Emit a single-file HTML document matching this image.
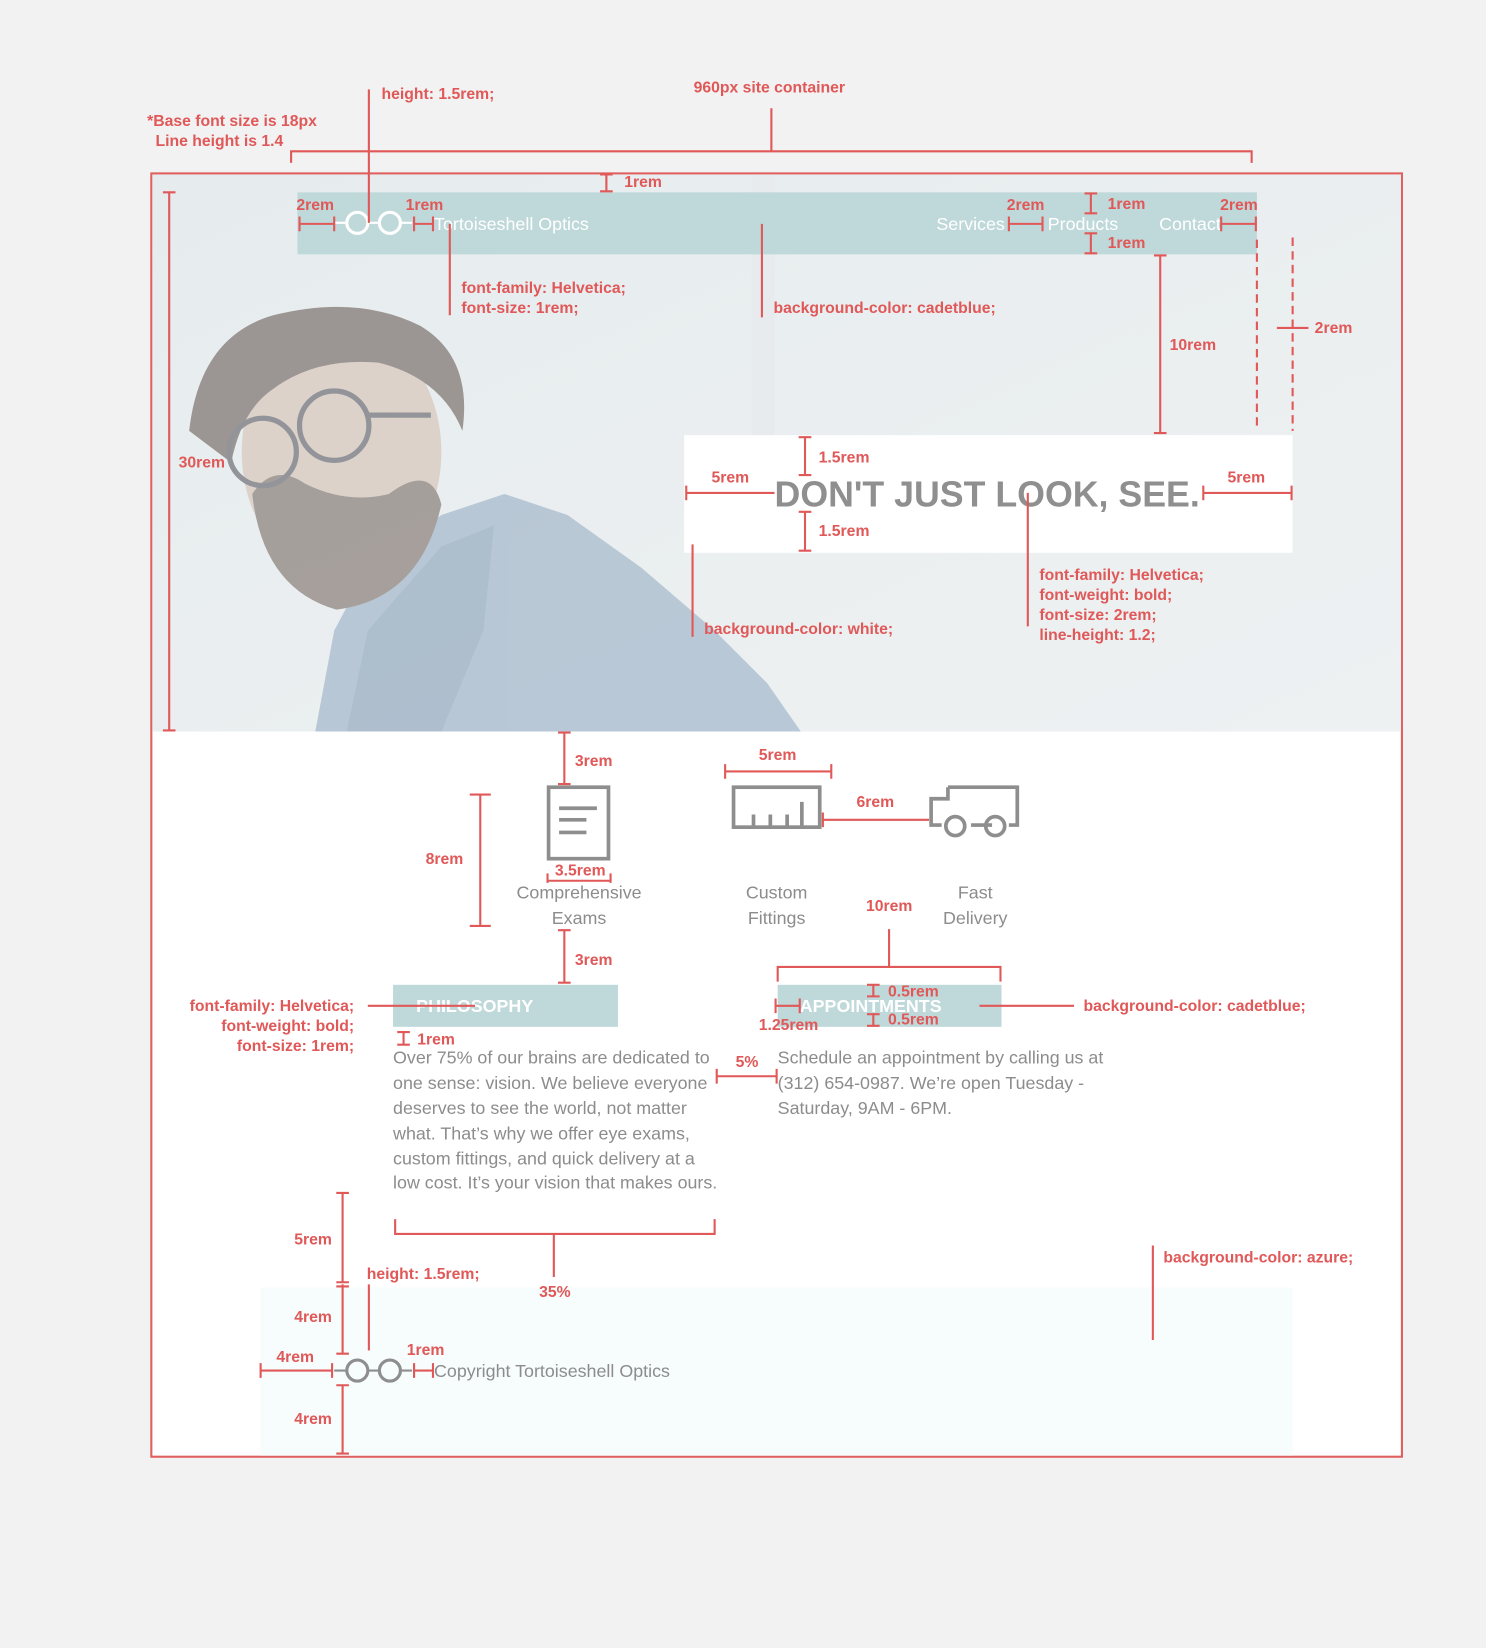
<!DOCTYPE html>
<html><head><meta charset="utf-8"><style>
html,body{margin:0;padding:0;background:#f2f2f2;}
svg{display:block;}
.a{font-family:"Liberation Sans",sans-serif;font-size:15px;font-weight:bold;fill:#e05858;}
.g{font-family:"Liberation Sans",sans-serif;font-size:17px;fill:#8c8c8c;}
.w{font-family:"Liberation Sans",sans-serif;font-size:17px;fill:#fff;}
.r{stroke:#e05858;stroke-width:2;fill:none;}
</style></head><body>
<svg width="1486" height="1648" viewBox="0 0 1414 1568" preserveAspectRatio="none" xmlns="http://www.w3.org/2000/svg">
<defs>
<linearGradient id="hg" x1="0" y1="0" x2="1" y2="1">
<stop offset="0" stop-color="#e6ecee"/><stop offset="1" stop-color="#eef1f2"/></linearGradient>
</defs>
<rect width="1414" height="1568" fill="#f2f2f2"/>
<rect x="144" y="165" width="1190" height="1221" fill="#fff" stroke="#e06060" stroke-width="2"/>
<rect x="145" y="166" width="1188" height="530" fill="url(#hg)"/>
<rect x="715" y="166" width="22" height="300" fill="#e7ebed"/>
<!-- person -->
<g opacity="0.55">
<path d="M300 696 L318 600 L350 540 L420 490 L480 470 L540 490 L610 540 L680 600 L730 650 L762 696 Z" fill="#8fa8c0"/>
<path d="M330 696 L350 600 L420 520 L470 500 L460 600 L420 696 Z" fill="#7d97b2"/>
<ellipse cx="325" cy="430" rx="95" ry="120" fill="#d3bcac"/>
<path d="M240 470 Q250 560 320 580 Q400 570 420 480 Q410 440 370 470 Q330 480 290 460 Q260 440 240 470 Z" fill="#6f6058"/>
<path d="M180 410 Q190 320 260 300 Q340 280 400 310 Q450 340 440 410 Q420 360 360 345 Q300 340 260 370 Q230 390 220 440 Z" fill="#5e5049"/>
<circle cx="250" cy="430" r="32" fill="none" stroke="#4d4d55" stroke-width="5"/>
<circle cx="318" cy="405" r="33" fill="none" stroke="#4d4d55" stroke-width="5"/>
<path d="M350 395 L410 395" stroke="#4d4d55" stroke-width="5"/>
</g>
<!-- nav -->
<rect x="283" y="183" width="913" height="59" fill="#bfd8da"/>
<circle cx="340" cy="212" r="10" fill="none" stroke="#fff" stroke-width="3"/>
<circle cx="371" cy="212" r="10" fill="none" stroke="#fff" stroke-width="3"/>
<path d="M318 212 H330 M350 212 H361 M381 212 H392" stroke="#fff" stroke-width="2"/>
<text x="413" y="219" class="w">Tortoiseshell Optics</text>
<text x="891" y="219" class="w">Services</text>
<text x="997" y="219" class="w">Products</text>
<text x="1103" y="219" class="w">Contact</text>
<!-- hero box -->
<rect x="651" y="414" width="579" height="112" fill="#fff"/>
<text x="737" y="482" font-family="Liberation Sans,sans-serif" font-weight="bold" font-size="34" fill="#8f8f8f">DON'T JUST LOOK, SEE.</text>
<!-- footer bg -->
<rect x="248" y="1225" width="982" height="160" fill="#f7fcfd"/>
<!-- annotations top -->
<text x="660" y="88" class="a">960px site container</text>
<path class="r" d="M734 103 V144 M277 155 V144 H1191 V155"/>
<text x="140" y="120" class="a">*Base font size is 18px</text>
<text x="148" y="139" class="a">Line height is 1.4</text>
<text x="363" y="94" class="a">height: 1.5rem;</text>
<path class="r" d="M351 85 V212"/>
<path class="r" d="M577 166 V182 M571 166 H583 M571 182 H583"/>
<text x="594" y="178" class="a">1rem</text>
<text x="282" y="200" class="a">2rem</text>
<path class="r" d="M285 213 H318 M285 206 V220 M318 206 V220"/>
<text x="386" y="200" class="a">1rem</text>
<path class="r" d="M394 213 H412 M394 206 V220 M412 206 V220"/>
<path class="r" d="M428 213 V300"/>
<text x="439" y="279" class="a">font-family: Helvetica;</text>
<text x="439" y="298" class="a">font-size: 1rem;</text>
<path class="r" d="M725 213 V302"/>
<text x="736" y="298" class="a">background-color: cadetblue;</text>
<text x="958" y="200" class="a">2rem</text>
<path class="r" d="M960 213 H992 M960 206 V220 M992 206 V220"/>
<path class="r" d="M1038 184 V203 M1032 184 H1044 M1032 203 H1044 M1038 222 V241 M1032 222 H1044 M1032 241 H1044"/>
<text x="1054" y="199" class="a">1rem</text>
<text x="1054" y="236" class="a">1rem</text>
<text x="1161" y="200" class="a">2rem</text>
<path class="r" d="M1162 213 H1195 M1162 206 V220 M1195 206 V220"/>
<path class="r" d="M1104 243 V412 M1098 243 H1110 M1098 412 H1110"/>
<text x="1113" y="333" class="a">10rem</text>
<path class="r" stroke-dasharray="8,5" d="M1196 228 V410 M1230 226 V410"/>
<path class="r" d="M1215 312 H1245"/>
<text x="1251" y="317" class="a">2rem</text>
<path class="r" d="M161 183 V695 M155 183 H167 M155 695 H167"/>
<text x="170" y="445" class="a">30rem</text>
<path class="r" d="M766 416 V452 M760 416 H772 M760 452 H772 M766 487 V524 M760 487 H772 M760 524 H772"/>
<text x="779" y="440" class="a">1.5rem</text>
<text x="779" y="510" class="a">1.5rem</text>
<path class="r" d="M653 469 H737 M653 462 V476 M1145 469 H1229 M1145 462 V476 M1229 462 V476"/>
<text x="677" y="459" class="a">5rem</text>
<text x="1168" y="459" class="a">5rem</text>
<path class="r" d="M978 469 V596"/>
<text x="989" y="552" class="a">font-family: Helvetica;</text>
<text x="989" y="571" class="a">font-weight: bold;</text>
<text x="989" y="590" class="a">font-size: 2rem;</text>
<text x="989" y="609" class="a">line-height: 1.2;</text>
<path class="r" d="M659 518 V606"/>
<text x="670" y="603" class="a">background-color: white;</text>
<!-- services -->
<path class="r" d="M537 697 V746 M531 697 H543 M531 746 H543"/>
<text x="547" y="729" class="a">3rem</text>
<rect x="522" y="749" width="57" height="68" fill="none" stroke="#8e8e8e" stroke-width="3.5"/>
<path d="M532 769 H568 M532 780 H558 M532 792 H558" stroke="#8e8e8e" stroke-width="3.5"/>
<path class="r" d="M457 756 V881 M447 756 H467 M447 881 H467"/>
<text x="405" y="822" class="a">8rem</text>
<path class="r" d="M521 838 H581 M521 831 V840 M581 831 V840"/>
<text x="528" y="833" class="a" font-size="13">3.5rem</text>
<text x="551" y="855" class="g" text-anchor="middle">Comprehensive</text>
<text x="551" y="879" class="g" text-anchor="middle">Exams</text>
<path class="r" d="M690 734 H791 M690 727 V741 M791 727 V741"/>
<text x="722" y="723" class="a">5rem</text>
<rect x="698" y="749" width="82" height="38" fill="none" stroke="#8e8e8e" stroke-width="3.5"/>
<path d="M717 787 V775 M733 787 V775 M749 787 V775 M763 787 V763" stroke="#8e8e8e" stroke-width="3.5"/>
<path class="r" d="M783 780 H884 M783 773 V787"/>
<text x="815" y="768" class="a">6rem</text>
<path d="M902 749 H968 V785 H960 M944 785 H924 M902 749 V760 H886 V785 H896" fill="none" stroke="#8e8e8e" stroke-width="3.5"/>
<circle cx="909" cy="786" r="9" fill="none" stroke="#8e8e8e" stroke-width="3.5"/>
<circle cx="947" cy="786" r="9" fill="none" stroke="#8e8e8e" stroke-width="3.5"/>
<text x="739" y="855" class="g" text-anchor="middle">Custom</text>
<text x="739" y="879" class="g" text-anchor="middle">Fittings</text>
<text x="928" y="855" class="g" text-anchor="middle">Fast</text>
<text x="928" y="879" class="g" text-anchor="middle">Delivery</text>
<text x="824" y="867" class="a">10rem</text>
<path class="r" d="M846 884 V920 M740 934 V920 H952 V934"/>
<path class="r" d="M537 885 V935 M531 885 H543 M531 935 H543"/>
<text x="547" y="918" class="a">3rem</text>
<rect x="374" y="937" width="214" height="40" fill="#bfd8da"/>
<text x="396" y="963" class="w" font-weight="bold">PHILOSOPHY</text>
<path class="r" d="M350 957 H452"/>
<text x="337" y="962" class="a" text-anchor="end">font-family: Helvetica;</text>
<text x="337" y="981" class="a" text-anchor="end">font-weight: bold;</text>
<text x="337" y="1000" class="a" text-anchor="end">font-size: 1rem;</text>
<path class="r" d="M384 982 V994 M378 982 H390 M378 994 H390"/>
<text x="397" y="994" class="a">1rem</text>
<text x="374" y="1012" class="g">Over 75% of our brains are dedicated to</text>
<text x="374" y="1036" class="g">one sense: vision. We believe everyone</text>
<text x="374" y="1060" class="g">deserves to see the world, not matter</text>
<text x="374" y="1084" class="g">what. That’s why we offer eye exams,</text>
<text x="374" y="1108" class="g">custom fittings, and quick delivery at a</text>
<text x="374" y="1131" class="g">low cost. It’s your vision that makes ours.</text>
<path class="r" d="M682 1024 H739 M682 1017 V1031 M739 1017 V1031"/>
<text x="700" y="1015" class="a">5%</text>
<rect x="740" y="937" width="213" height="40" fill="#bfd8da"/>
<text x="761" y="963" class="w" font-weight="bold">APPOINTMENTS</text>
<path class="r" d="M831 937 V948 M825 937 H837 M825 948 H837 M831 965 V976 M825 965 H837 M825 976 H837"/>
<text x="845" y="948" class="a">0.5rem</text>
<text x="845" y="975" class="a">0.5rem</text>
<path class="r" d="M738 957 H761 M738 950 V964 M761 950 V964"/>
<text x="722" y="980" class="a">1.25rem</text>
<path class="r" d="M932 957 H1022"/>
<text x="1031" y="962" class="a">background-color: cadetblue;</text>
<text x="740" y="1012" class="g">Schedule an appointment by calling us at</text>
<text x="740" y="1036" class="g">(312) 654-0987. We’re open Tuesday -</text>
<text x="740" y="1060" class="g">Saturday, 9AM - 6PM.</text>
<path class="r" d="M376 1160 V1174 H680 V1160 M527 1174 V1215"/>
<text x="513" y="1234" class="a">35%</text>
<!-- footer -->
<path class="r" d="M326 1135 V1220 M320 1135 H332 M320 1220 H332 M326 1222 V1288 M320 1224 H332 M320 1288 H332 M326 1318 V1383 M320 1318 H332 M320 1383 H332"/>
<text x="280" y="1184" class="a">5rem</text>
<text x="280" y="1258" class="a">4rem</text>
<text x="280" y="1355" class="a">4rem</text>
<text x="349" y="1217" class="a">height: 1.5rem;</text>
<path class="r" d="M351 1222 V1285"/>
<path class="r" d="M248 1304 H316 M248 1297 V1311 M316 1297 V1311"/>
<text x="263" y="1296" class="a">4rem</text>
<circle cx="340" cy="1304" r="10" fill="none" stroke="#8e8e8e" stroke-width="3"/>
<circle cx="371" cy="1304" r="10" fill="none" stroke="#8e8e8e" stroke-width="3"/>
<path d="M318 1304 H330 M350 1304 H361 M381 1304 H392" stroke="#8e8e8e" stroke-width="2"/>
<path class="r" d="M394 1304 H412 M394 1297 V1311 M412 1297 V1311"/>
<text x="387" y="1289" class="a">1rem</text>
<text x="413" y="1310" class="g">Copyright Tortoiseshell Optics</text>
<text x="1107" y="1201" class="a">background-color: azure;</text>
<path class="r" d="M1097 1185 V1275"/>
</svg>
</body></html>
